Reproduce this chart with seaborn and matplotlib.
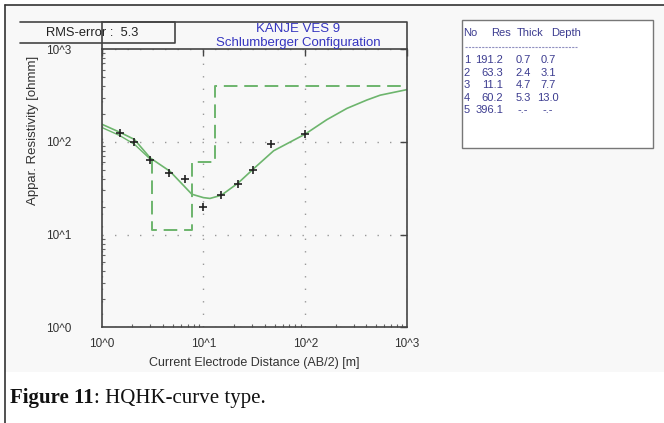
import numpy as np
import pandas as pd
import seaborn as sns
import matplotlib.pyplot as plt
from matplotlib.lines import Line2D
from matplotlib.patches import Rectangle

# measured sounding points (AB/2 [m], apparent resistivity [ohmm])
ab2 = [1.5, 2.1, 3.0, 4.6, 6.6, 10, 15, 22, 31, 46, 100]
rho_obs = [123, 100, 64, 46, 40, 20, 27, 35, 50, 94, 120]

# calculated curve
curve_x = [1, 1.5, 2.1, 3, 4.7, 7.7, 10, 11.6, 15, 22, 31, 49, 100, 163, 257, 404, 546, 1000]
curve_y = [155, 127, 106, 67, 48, 27.2, 25, 24.5, 26.5, 36, 51, 80, 121, 173, 229, 282, 318, 365]

# second short curve at the left end
curve2_x = [1, 1.5, 2.1, 3]
curve2_y = [143, 117, 94, 65]

# layer model
layer_no = [1, 2, 3, 4, 5]
layer_res = [191.2, 63.3, 11.1, 60.2, 396.1]
layer_thick = ['0.7', '2.4', '4.7', '5.3', '-.-']
layer_depth = [0.7, 3.1, 7.7, 13.0]

xtick_labels = ['10^0', '10^1', '10^2', '10^3']
ytick_labels = ['10^0', '10^1', '10^2', '10^3']

sns.set_theme(style='white')
plt.rcParams['font.family'] = ['Liberation Sans', 'DejaVu Sans']

W, H = 664, 423
fig = plt.figure(figsize=(W / 100, H / 100), dpi=100)

def fx(x):
    return x / W

def fy(y):
    return 1 - y / H

# background of the screenshot part
fig.add_artist(Rectangle((fx(5), fy(372)), fx(659), 367 / H, transform=fig.transFigure,
                         facecolor='#f8f8f8', edgecolor='none', zorder=0))
fig.add_artist(Line2D([fx(5), fx(5)], [fy(5), 0], transform=fig.transFigure, color='#333333', lw=1.2))
fig.add_artist(Line2D([fx(5), 1], [fy(5), fy(5)], transform=fig.transFigure, color='#333333', lw=1.2))

ax = fig.add_axes([fx(101.6), fy(327.3), (407 - 101.6) / W, (327.3 - 49) / H])
ax.set_facecolor('#f8f8f8')

green = '#6db56d'

# model step line (visible from the 2nd interface on)
mx = [layer_depth[1], layer_depth[1], layer_depth[2], layer_depth[2], layer_depth[3], layer_depth[3], 1000]
my = [layer_res[1], layer_res[2], layer_res[2], layer_res[3], layer_res[3], layer_res[4], layer_res[4]]
sns.lineplot(x=mx, y=my, sort=False, estimator=None, color=green, lw=1.4, ax=ax)
ax.lines[-1].set_dashes((7, 3.5))

sns.lineplot(x=curve_x, y=curve_y, sort=False, estimator=None, color=green, lw=1.2, ax=ax)
sns.lineplot(x=curve2_x, y=curve2_y, sort=False, estimator=None, color=green, lw=1.0, ax=ax)
sns.scatterplot(x=ab2, y=rho_obs, marker='+', color='#222222', s=40, linewidth=1.2, ax=ax, zorder=5)

ax.set_xscale('log')
ax.set_yscale('log')
ax.set_xlim(1, 1000)
ax.set_ylim(1, 1000)
ax.set_xticks([1, 10, 100, 1000])
ax.set_xticklabels(xtick_labels)
ax.set_yticks([1, 10, 100, 1000])
ax.set_yticklabels(ytick_labels)
ax.tick_params(axis='both', which='major', direction='in', length=5, width=1, colors='#444444',
               labelcolor='#333333', labelsize=8.5, top=True, right=True)
ax.tick_params(axis='x', which='major', pad=8)
ax.tick_params(axis='y', which='major', pad=22)
ax.tick_params(axis='both', which='minor', direction='in', length=2.5, width=0.8, colors='#666666',
               top=False, right=False, left=True, bottom=True)
for lbl in ax.get_xticklabels() + ax.get_yticklabels():
    lbl.set_color('#333333')

ax.grid(True, which='major', color='#999999', linestyle=(0, (1, 8)), lw=1.0)
for s in ax.spines.values():
    s.set_color('#444444')
    s.set_linewidth(1.2)

ax.set_xlabel('Current Electrode Distance (AB/2) [m]', fontsize=9, color='#333333', labelpad=5)
ax.set_ylabel('')
fig.text(fx(33), fy(130), 'Appar. Resistivity [ohmm]', rotation=90, ha='center', va='center',
         fontsize=9.5, color='#333333')

# title box
fig.add_artist(Line2D([fx(101.6), fx(407), fx(407)], [fy(22), fy(22), fy(49)],
                      transform=fig.transFigure, color='#444444', lw=1.2))
fig.add_artist(Line2D([fx(101.6), fx(101.6)], [fy(22), fy(49)], transform=fig.transFigure,
                      color='#444444', lw=1.2))
fig.text(fx(298), fy(29), 'KANJE VES 9', ha='center', va='center', fontsize=9.5, color='#3535c0')
fig.text(fx(298), fy(43), 'Schlumberger Configuration', ha='center', va='center', fontsize=9.5,
         color='#3535c0')

# RMS box
fig.add_artist(Line2D([fx(20), fx(175), fx(175), fx(20)], [fy(22), fy(22), fy(43), fy(43)],
                      transform=fig.transFigure, color='#444444', lw=1.2))
fig.text(fx(46), fy(33), 'RMS-error :  5.3', ha='left', va='center', fontsize=9.3, color='#222222')

# layer table
fig.add_artist(Rectangle((fx(462), fy(148)), (653 - 462) / W, (148 - 20) / H, transform=fig.transFigure,
                         facecolor='white', edgecolor='#777777', lw=1.0))
tcol = '#3c3c90'
fs_t = 8
fig.text(fx(463), fy(33), 'No', fontsize=fs_t, color=tcol, va='center')
fig.text(fx(491), fy(33), 'Res', fontsize=fs_t, color=tcol, va='center')
fig.text(fx(517), fy(33), 'Thick', fontsize=fs_t, color=tcol, va='center')
fig.text(fx(551), fy(33), 'Depth', fontsize=fs_t, color=tcol, va='center')
fig.add_artist(Line2D([fx(465), fx(577)], [fy(47), fy(47)], transform=fig.transFigure, color='#9090c0',
                      lw=0.8, linestyle=(0, (2, 1))))
row_y = [60, 72.5, 85, 97.5, 110]
depth_txt = ['%.1f' % d for d in layer_depth] + ['-.-']
for i in range(len(layer_no)):
    fig.text(fx(470), fy(row_y[i]), str(layer_no[i]), fontsize=fs_t, color=tcol, va='center', ha='right')
    fig.text(fx(503), fy(row_y[i]), '%.1f' % layer_res[i], fontsize=fs_t, color=tcol, va='center', ha='right')
    fig.text(fx(523), fy(row_y[i]), layer_thick[i], fontsize=fs_t, color=tcol, va='center', ha='center')
    fig.text(fx(548), fy(row_y[i]), depth_txt[i], fontsize=fs_t, color=tcol, va='center', ha='center')

# caption
t1 = fig.text(fx(10), fy(398), 'Figure 11', fontsize=15, fontweight='bold', family='Liberation Serif',
              va='center', ha='left', color='#111111')
fig.canvas.draw()
bb = t1.get_window_extent()
fig.text(bb.x1 / W, fy(398), ': HQHK-curve type.', fontsize=15, family='Liberation Serif',
         va='center', ha='left', color='#111111')

fig.savefig('out.png', dpi=100)
